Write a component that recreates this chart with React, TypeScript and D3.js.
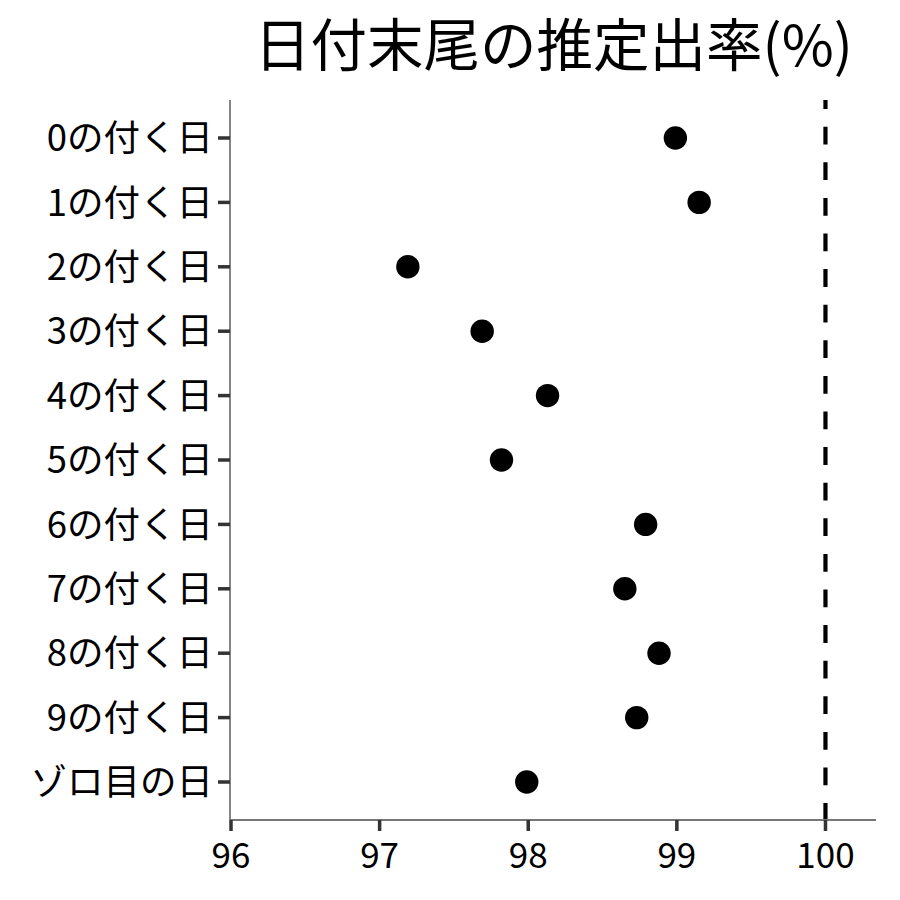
import React from 'react';
import { scaleLinear, scalePoint } from 'd3';

const title = '日付末尾の推定出率(%)';
const categories = [
  '0の付く日', '1の付く日', '2の付く日', '3の付く日', '4の付く日',
  '5の付く日', '6の付く日', '7の付く日', '8の付く日', '9の付く日', 'ゾロ目の日',
];
const rates = [98.99, 99.15, 97.19, 97.69, 98.13, 97.82, 98.79, 98.65, 98.88, 98.73, 97.99];
const xTicks = [96, 97, 98, 99, 100];
const refValue = 100;

const FONT = '"Noto Sans CJK JP", "Noto Sans", sans-serif';

const App: React.FC = () => {
  const width = 900;
  const height = 900;
  const margin = { top: 100, right: 24, bottom: 80, left: 230 };
  const plotBottom = height - margin.bottom;

  // x extends a bit past 100 like the original panel
  const x = scaleLinear().domain([96, 100.34]).range([231, width - margin.right]);
  const y = scalePoint<string>().domain(categories).range([margin.top, plotBottom]).padding(0.59);

  return (
    <svg
      width={width}
      height={height}
      style={{ position: 'absolute', left: 0, top: 0, background: '#fff' }}
      fontFamily={FONT}
    >
      <text x={(x.range()[0] + x.range()[1]) / 2} y={66} textAnchor="middle" fontSize={56.5} fill="#000">
        {title}
      </text>

      {/* reference line */}
      <line
        x1={x(refValue)} x2={x(refValue)} y1={margin.top} y2={plotBottom}
        stroke="#000" strokeWidth={4.2} strokeDasharray="17.8 17.8" strokeDashoffset={8.9}
      />

      {/* axes */}
      <line x1={margin.left} x2={margin.left} y1={margin.top} y2={plotBottom} stroke="#777" strokeWidth={1.8} />
      <line x1={margin.left} x2={x.range()[1]} y1={plotBottom} y2={plotBottom} stroke="#777" strokeWidth={1.8} />

      {categories.map((c) => (
        <g key={c} transform={`translate(0, ${y(c)})`}>
          <line x1={218} x2={230} stroke="#333" strokeWidth={3.5} />
          <text x={213} dy="0.36em" textAnchor="end" fontSize={36.5} fill="#000">{c}</text>
        </g>
      ))}

      {xTicks.map((t) => (
        <g key={t} transform={`translate(${x(t)}, ${plotBottom})`}>
          <line y1={0} y2={11} stroke="#333" strokeWidth={3.5} />
          <text y={48} textAnchor="middle" fontSize={35} fill="#000">{t}</text>
        </g>
      ))}

      {categories.map((c, i) => (
        <circle key={c} cx={x(rates[i])} cy={y(c)} r={11.7} fill="#000" />
      ))}
    </svg>
  );
};

export default App;
